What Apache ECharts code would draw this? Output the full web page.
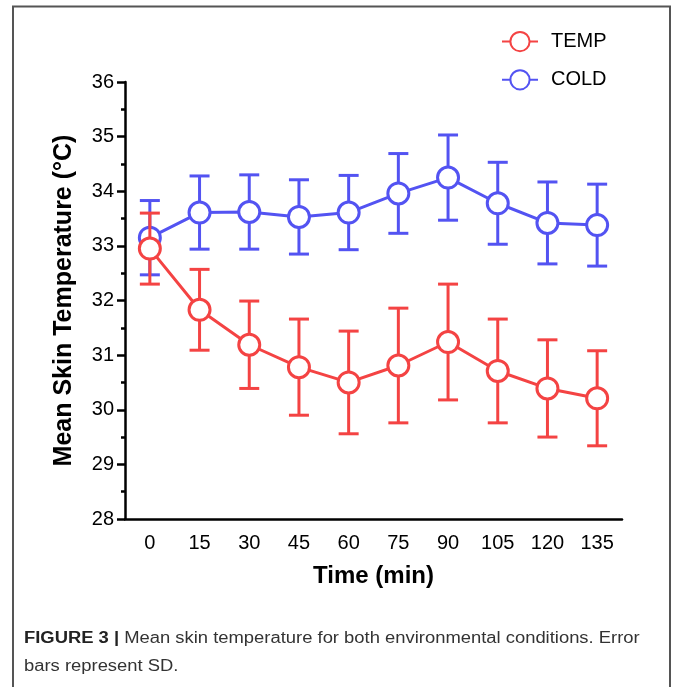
<!DOCTYPE html>
<html>
<head>
<meta charset="utf-8">
<script src="https://cdn.jsdelivr.net/npm/echarts@6/dist/echarts.min.js"></script>
<style>
html,body{margin:0;padding:0;background:#fff;}
#chart{width:673px;height:687px;}
</style>
</head>
<body>
<div id="chart"></div>
<script>
const times = ['0','15','30','45','60','75','90','105','120','135'];
const tempMean = [32.95,31.83,31.19,30.78,30.50,30.81,31.24,30.71,30.39,30.21];
const tempSD   = [0.65,0.74,0.80,0.88,0.94,1.05,1.06,0.95,0.89,0.87];
const coldMean = [33.15,33.61,33.62,33.53,33.61,33.96,34.25,33.78,33.42,33.38];
const coldSD   = [0.68,0.67,0.68,0.68,0.68,0.73,0.78,0.75,0.75,0.75];
const yTicks = [28,29,30,31,32,33,34,35,36];

const RED = '#F44343';
const BLUE = '#5353F2';
const FONT = '"Liberation Sans", Arial, Helvetica, sans-serif';

function errData(mean, sd){
  return mean.map((m,i)=>[i, m - sd[i], m + sd[i]]);
}
function errSeries(name, mean, sd, color, z){
  return {
    type:'custom', name: name + ' SD', z: z, silent:true,
    data: errData(mean, sd),
    renderItem: function(params, api){
      const x = api.value(0);
      const lo = api.coord([x, api.value(1)]);
      const hi = api.coord([x, api.value(2)]);
      const hw = 10;
      const st = {stroke: color, lineWidth: 3};
      return {type:'group', children:[
        {type:'line', shape:{x1:lo[0],y1:lo[1],x2:hi[0],y2:hi[1]}, style:st},
        {type:'line', shape:{x1:lo[0]-hw,y1:lo[1],x2:lo[0]+hw,y2:lo[1]}, style:st},
        {type:'line', shape:{x1:hi[0]-hw,y1:hi[1],x2:hi[0]+hw,y2:hi[1]}, style:st}
      ]};
    }
  };
}
function lineSeries(name, mean, color, z){
  return {
    type:'line', name:name, z:z, data: mean,
    symbol:'circle', symbolSize:21, showAllSymbol:true,
    lineStyle:{color:color, width:3},
    itemStyle:{color:'#fff', borderColor:color, borderWidth:3},
    emphasis:{disabled:true}, animation:false
  };
}

const chart = echarts.init(document.getElementById('chart'));
chart.setOption({
  animation:false,
  backgroundColor:'#fff',
  textStyle:{fontFamily: FONT},
  grid:{left:125, right:51, top:82, bottom:168, containLabel:false},
  legend:{
    orient:'vertical', left:496, top:26, itemGap:17,
    itemWidth:36, itemHeight:24,
    data:['TEMP','COLD'],
    textStyle:{fontSize:20, color:'#000', fontFamily:FONT, padding:[0,0,0,8]}
  },
  xAxis:{
    type:'category', data: times, boundaryGap:true,
    axisLine:{lineStyle:{color:'#000', width:2.5}},
    axisTick:{alignWithLabel:true, length:7, lineStyle:{color:'#000', width:2.5}},
    axisLabel:{fontSize:20, color:'#000', margin:14, fontFamily:FONT},
    name:'Time (min)', nameLocation:'middle', nameGap:45,
    nameTextStyle:{fontSize:24, fontWeight:'bold', color:'#000', fontFamily:FONT}
  },
  yAxis:{
    type:'value', min:yTicks[0], max:yTicks[yTicks.length-1], interval:1,
    axisLine:{show:true, lineStyle:{color:'#000', width:2.5}},
    axisTick:{show:true, length:8, lineStyle:{color:'#000', width:2.5}},
    minorTick:{show:true, splitNumber:2, length:4, lineStyle:{color:'#000', width:2.5}},
    splitLine:{show:false},
    axisLabel:{fontSize:20, color:'#000', margin:11, fontFamily:FONT},
    name:'Mean Skin Temperature (°C)', nameLocation:'middle', nameGap:48,
    nameTextStyle:{fontSize:25, fontWeight:'bold', color:'#000', fontFamily:FONT}
  },
  series:[
    errSeries('COLD', coldMean, coldSD, BLUE, 1),
    lineSeries('COLD', coldMean, BLUE, 2),
    errSeries('TEMP', tempMean, tempSD, RED, 3),
    lineSeries('TEMP', tempMean, RED, 4)
  ],
  graphic:[
    {type:'polyline', silent:true, shape:{points:[[13,687],[13,6.5],[670,6.5],[670,687]]},
     style:{stroke:'#555', lineWidth:2, fill:null}},
    {type:'text', x:24, y:625, scaleX:1.15, silent:true,
     style:{
       text:'{b|FIGURE 3 |} Mean skin temperature for both environmental conditions. Error\nbars represent SD.',
       fontFamily: FONT, fontSize:16, fill:'#333', lineHeight:28,
       rich:{b:{fontWeight:'bold', fontSize:16, fill:'#222', fontFamily:FONT}}
     }}
  ]
});
</script>
</body>
</html>
